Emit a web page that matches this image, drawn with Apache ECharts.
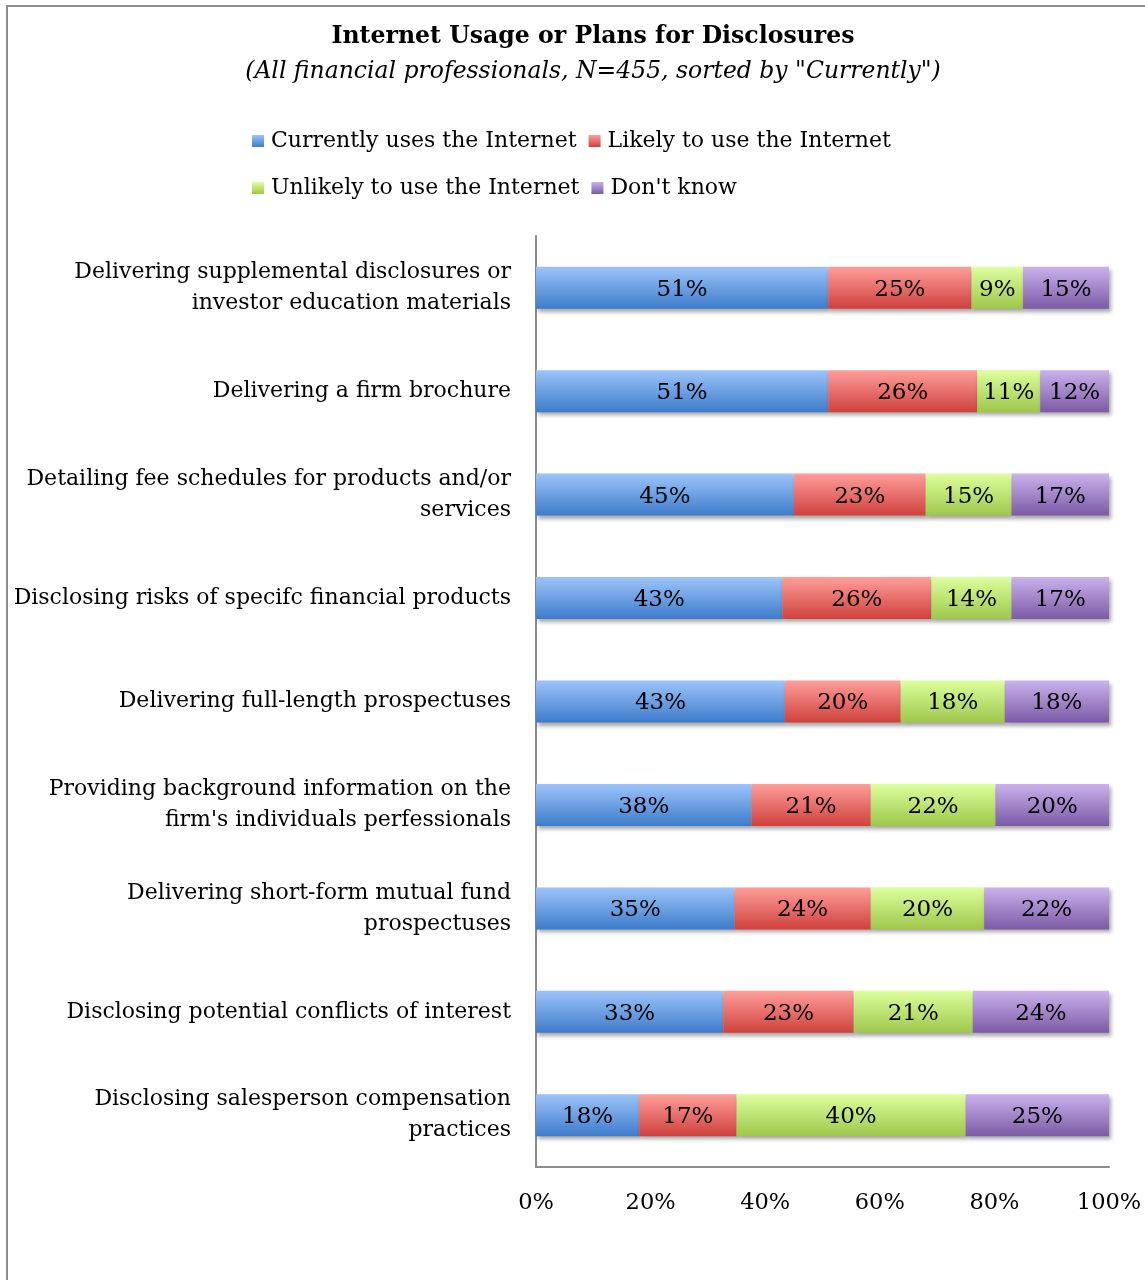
<!DOCTYPE html>
<html>
<head>
<meta charset="utf-8">
<script src="https://cdn.jsdelivr.net/npm/echarts@6/dist/echarts.min.js"></script>
<style>
html,body{margin:0;padding:0;background:#fff;}
#main{width:1145px;height:1280px;}
</style>
</head>
<body>
<div id="main"></div>
<script>
const categories = [
  "Delivering supplemental disclosures or\ninvestor education materials",
  "Delivering a firm brochure",
  "Detailing fee schedules for products and/or\nservices",
  "Disclosing risks of specifc financial products",
  "Delivering full-length prospectuses",
  "Providing background information on the\nfirm's individuals perfessionals",
  "Delivering short-form mutual fund\nprospectuses",
  "Disclosing potential conflicts of interest",
  "Disclosing salesperson compensation\npractices"
];
const seriesNames = ["Currently uses the Internet", "Likely to use the Internet", "Unlikely to use the Internet", "Don't know"];
const currently = [51, 51, 45, 43, 43, 38, 35, 33, 18];
const likely    = [25, 26, 23, 26, 20, 21, 24, 23, 17];
const unlikely  = [9, 11, 15, 14, 18, 22, 20, 21, 40];
const dontKnow  = [15, 12, 17, 17, 18, 20, 22, 24, 25];
const xTicks = [0, 20, 40, 60, 80, 100];

const FONT = 'DejaVu Serif';
const raw = [currently, likely, unlikely, dontKnow];
const totals = categories.map((_, i) => raw.reduce((s, arr) => s + arr[i], 0));
const gradients = [
  ['#9DC4FA', '#3D7CCB'],
  ['#FF9E9A', '#CF413D'],
  ['#DDFF9E', '#9EC74A'],
  ['#CAB2EC', '#7C5AA6']
];
function grad(c) {
  return new echarts.graphic.LinearGradient(0, 0, 0, 1, [
    {offset: 0, color: c[0]}, {offset: 1, color: c[1]}
  ]);
}

const series = raw.map((arr, k) => ({
  name: seriesNames[k],
  type: 'bar',
  stack: 'total',
  barWidth: 42,
  data: arr.map((v, i) => ({value: v / totals[i] * 100, raw: v})),
  itemStyle: {
    color: grad(gradients[k]),
    shadowBlur: 4,
    shadowOffsetX: 2,
    shadowOffsetY: 3,
    shadowColor: 'rgba(0,0,0,0.35)'
  },
  label: {
    show: true,
    position: 'inside',
    offset: [0, 2],
    color: '#000',
    fontFamily: FONT,
    fontSize: 23,
    formatter: p => p.data.raw + '%'
  },
  emphasis: {disabled: true}
}));

const legendText = {color: '#000', fontFamily: FONT, fontSize: 22, padding: [0, 0, 0, 2]};
const chart = echarts.init(document.getElementById('main'), null, {renderer: 'canvas'});
chart.setOption({
  animation: false,
  color: gradients.map(g => g[1]),
  graphic: [
    {type: 'polyline', shape: {points: [[7, 1280], [7, 6], [1145, 6]]}, style: {stroke: '#8C8C8C', lineWidth: 2, fill: null}},
    {type: 'text', x: 593, y: 37, style: {text: 'Internet Usage or Plans for Disclosures', font: 'bold 23.6px "DejaVu Serif"', fill: '#000', align: 'center', verticalAlign: 'middle'}},
    {type: 'text', x: 593, y: 72, style: {text: '(All financial professionals, N=455, sorted by "Currently")', font: 'italic 23.5px "DejaVu Serif"', fill: '#000', align: 'center', verticalAlign: 'middle'}}
  ],
  legend: [
    {data: seriesNames.slice(0, 2), left: 252, top: 130, padding: 0, itemGap: 12, itemWidth: 12, itemHeight: 12, icon: 'rect', textStyle: legendText, selectedMode: false},
    {data: seriesNames.slice(2, 4), left: 252, top: 177, padding: 0, itemGap: 12, itemWidth: 12, itemHeight: 12, icon: 'rect', textStyle: legendText, selectedMode: false}
  ],
  grid: {left: 536, right: 36, top: 236, bottom: 113, containLabel: false},
  xAxis: {
    type: 'value', min: 0, max: 100, interval: 20,
    axisLine: {show: true, lineStyle: {color: '#8C8C8C', width: 2}},
    axisTick: {show: false},
    splitLine: {show: false},
    axisLabel: {formatter: v => v + '%', color: '#000', fontFamily: FONT, fontSize: 22.5, margin: 25}
  },
  yAxis: {
    type: 'category', inverse: true, data: categories,
    axisLine: {show: true, lineStyle: {color: '#8C8C8C', width: 2}},
    axisTick: {show: false},
    axisLabel: {color: '#000', fontFamily: FONT, fontSize: 22, lineHeight: 31, margin: 25, align: 'right', padding: [6, 0, 0, 0]}
  },
  series: series
});
</script>
</body>
</html>
